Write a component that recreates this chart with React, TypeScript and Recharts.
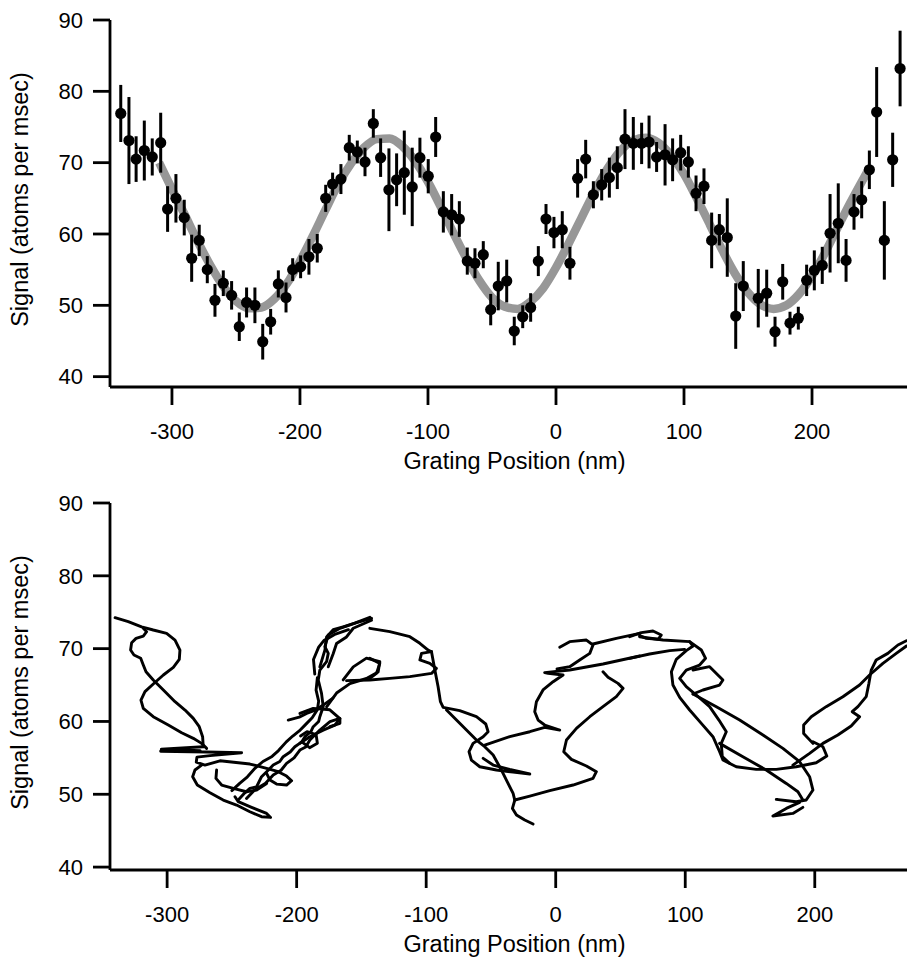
import React from 'react';
import { ComposedChart, Scatter, Line, XAxis, YAxis, ErrorBar } from 'recharts';

// ---------- shared text ----------
const xTicks = [-300, -200, -100, 0, 100, 200];
const yTicks = [40, 50, 60, 70, 80, 90];
const xTitle = 'Grating Position (nm)';
const yTitle = 'Signal (atoms per msec)';

// ---------- top panel: measured points ----------
const measuredX = [
  -340.0, -333.6, -328.0, -321.6, -315.4, -308.8, -303.4, -296.9, -290.4, -284.6,
  -278.7, -272.4, -266.4, -259.9, -253.4, -247.4, -241.7, -235.2, -229.1, -222.9,
  -216.9, -210.9, -205.7, -199.5, -193.0, -186.5, -179.9, -174.5, -168.0, -161.5,
  -155.2, -149.2, -142.7, -137.0, -130.5, -124.5, -118.5, -112.3, -106.3, -99.8,
  -94.0, -88.0, -81.5, -75.5, -69.3, -63.3, -56.8, -51.0, -45.1, -38.5,
  -32.6, -26.0, -19.8, -13.8, -7.8, -1.6, 4.9, 10.9, 16.9, 23.2,
  29.2, 35.7, 41.7, 47.9, 53.9, 60.4, 66.9, 72.7, 78.6, 85.2,
  91.1, 97.4, 103.4, 109.4, 115.6, 121.6, 127.6, 133.8, 140.4, 146.3,
  158.0, 164.6, 171.1, 177.1, 182.8, 189.3, 195.8, 201.8, 208.0, 214.1,
  220.5, 226.6, 232.8, 238.8, 244.8, 250.5, 256.5, 263.0, 268.8,
];
const measuredY = [
  76.9, 73.1, 70.5, 71.7, 70.8, 72.8, 63.5, 65.0, 62.3, 56.6,
  59.1, 55.0, 50.7, 53.1, 51.4, 47.0, 50.4, 50.0, 44.9, 47.7,
  53.0, 51.1, 55.0, 55.4, 56.8, 58.0, 65.0, 67.0, 67.7, 72.1,
  71.5, 70.1, 75.5, 70.7, 66.2, 67.6, 68.6, 66.6, 70.7, 68.1,
  73.6, 63.1, 62.7, 62.1, 56.2, 55.9, 57.1, 49.4, 52.7, 53.4,
  46.4, 48.4, 49.7, 56.2, 62.1, 60.2, 60.6, 55.9, 67.8, 70.5,
  65.5, 66.9, 67.9, 69.3, 73.3, 72.7, 72.7, 72.9, 70.8, 71.1,
  70.4, 71.4, 70.1, 65.7, 66.7, 59.1, 60.6, 59.5, 48.5, 52.7,
  51.0, 51.7, 46.3, 53.3, 47.5, 48.2, 53.5, 54.9, 55.6, 60.1,
  61.5, 56.3, 63.1, 64.8, 69.0, 77.1, 59.1, 70.4, 83.2,
];
const measuredErr = [
  4.0, 6.1, 3.2, 4.2, 2.6, 4.2, 3.2, 3.4, 2.5, 3.3,
  2.2, 1.9, 2.3, 1.8, 2.0, 2.0, 2.1, 2.5, 2.5, 1.8,
  1.9, 2.1, 1.6, 1.6, 2.5, 2.0, 1.9, 1.6, 2.1, 1.8,
  1.6, 2.0, 2.0, 2.7, 5.8, 3.7, 5.9, 5.5, 2.8, 2.4,
  2.8, 2.9, 2.9, 2.5, 1.9, 2.1, 1.9, 2.2, 3.4, 3.0,
  2.0, 1.6, 2.0, 2.1, 2.1, 2.2, 2.6, 2.3, 2.7, 2.7,
  1.9, 2.2, 2.8, 3.0, 4.2, 3.7, 2.9, 3.7, 2.1, 4.3,
  3.0, 2.5, 2.2, 2.5, 2.5, 3.9, 2.2, 5.5, 4.6, 3.5,
  4.1, 3.3, 2.1, 2.5, 1.6, 1.6, 2.2, 2.8, 2.6, 5.5,
  5.6, 3.0, 2.5, 2.6, 2.7, 6.3, 5.5, 3.8, 5.3,
];

// ---------- top panel: fitted curve ----------
const fitX = [
  -310, -300, -290, -280, -270, -260, -250, -240, -230, -220, -210, -200, -190, -180,
  -170, -160, -150, -140, -130, -120, -110, -100, -90, -80, -70, -60, -50, -40, -30,
  -20, -10, 0, 10, 20, 30, 40, 50, 60, 70, 80, 90, 100, 110, 120, 130, 140, 150, 160,
  170, 180, 190, 200, 210, 220, 230, 240, 245,
];
const fitY = [
  70.0, 66.3, 62.7, 59.0, 55.6, 52.7, 50.6, 49.6, 49.7, 50.9, 53.1, 56.2, 59.7, 63.4,
  67.0, 69.9, 72.1, 73.3, 73.4, 72.3, 70.2, 67.3, 63.8, 60.1, 56.6, 53.5, 51.1, 49.8, 49.5,
  50.5, 52.4, 55.3, 58.7, 62.3, 65.9, 69.1, 71.6, 73.1, 73.5, 72.8, 71.0, 68.4, 65.0, 61.4, 57.7,
  54.4, 51.8, 50.1, 49.5, 50.0, 51.6, 54.1, 57.3, 60.9, 64.4, 67.7, 69.3,
];

// ---------- bottom panel: recorder trace, strand by strand [nm, signal] ----------
const traceA = [[-340.2, 74.25], [-330.0, 73.7], [-319.7, 73.0], [-310.7, 72.56], [-300.4, 72.1], [-293.9, 71.18], [-290.1, 69.81], [-290.6, 68.53], [-295.2, 67.43], [-302.9, 66.38], [-310.7, 65.14], [-317.1, 64.09], [-320.2, 62.94], [-318.4, 61.8], [-310.7, 60.65], [-299.1, 59.51], [-288.8, 58.45], [-279.8, 57.68], [-273.4, 56.99], [-269.5, 56.3]];
const traceB = [[-318.4, 72.79], [-315.8, 72.33], [-318.4, 71.73], [-324.0, 71.41], [-327.4, 70.82], [-328.2, 69.81], [-325.6, 69.12], [-320.4, 68.67], [-318.4, 67.75], [-316.3, 66.83], [-310.7, 65.69], [-302.9, 64.32], [-293.9, 62.71], [-286.2, 61.57], [-279.8, 60.42], [-275.2, 59.28], [-272.6, 57.91], [-272.1, 56.53]];
const traceC = [[-272.1, 56.53], [-304.5, 56.2], [-274.5, 56.0], [-305.0, 55.9], [-269.5, 55.8], [-242.5, 55.7], [-266.9, 55.3], [-277.0, 55.1], [-277.5, 54.4], [-270.8, 54.0], [-259.2, 54.6], [-236.1, 54.15], [-223.2, 53.56], [-214.2, 53.1], [-207.8, 52.5], [-203.9, 51.86], [-207.8, 51.27], [-215.5, 51.4], [-220.6, 51.95], [-223.2, 52.87]];
const traceD = [[-273.4, 54.01], [-278.5, 53.33], [-280.3, 52.41], [-276.7, 51.27], [-266.9, 50.21], [-256.7, 49.21], [-246.4, 48.52], [-236.1, 47.6], [-227.1, 46.92], [-220.1, 46.82], [-223.2, 47.37], [-234.8, 48.2], [-245.1, 48.98], [-247.6, 49.66]];
const traceE = [[-261.8, 53.33], [-262.3, 52.18], [-257.9, 51.27], [-248.9, 50.81], [-238.7, 50.35], [-230.9, 50.58], [-223.2, 51.49]];
const traceF = [[-245.1, 49.21], [-240.0, 50.2], [-236.1, 50.81], [-231.0, 51.0], [-227.1, 52.41], [-222.0, 53.3], [-218.1, 54.01], [-213.0, 54.5], [-210.4, 55.16], [-205.0, 55.8], [-201.4, 56.53], [-196.0, 57.2], [-193.6, 57.91], [-189.0, 58.6], [-187.2, 59.28], [-183.0, 60.0], [-182.1, 60.65], [-179.5, 62.03], [-180.8, 63.86], [-183.3, 65.69], [-182.1, 67.06], [-176.9, 68.21], [-175.6, 69.35], [-178.2, 70.27], [-175.6, 71.87], [-166.6, 72.79], [-153.8, 73.57], [-142.2, 74.16]];
const traceG = [[-238.7, 49.43], [-233.0, 50.5], [-228.4, 51.04], [-224.0, 51.5], [-218.1, 52.64], [-212.0, 53.3], [-207.8, 54.24], [-202.0, 55.0], [-197.5, 56.07], [-193.0, 56.5], [-189.8, 57.45], [-182.1, 58.82], [-174.3, 59.97], [-166.6, 60.42], [-166.6, 59.74], [-174.3, 59.28]];
const traceH = [[-206.5, 60.19], [-198.0, 60.6], [-192.3, 61.11], [-185.0, 61.6], [-179.5, 62.25], [-172.0, 63.2]];
const traceI = [[-197.5, 61.1], [-187.2, 61.8], [-174.4, 61.6], [-166.6, 60.4], [-170.5, 59.5], [-179.5, 58.8], [-189.8, 57.9], [-197.5, 57.0]];
const traceJ = [[-182.1, 67.5], [-178.2, 69.8], [-176.9, 71.6], [-171.8, 72.6], [-164.1, 73.0], [-155.1, 73.5], [-143.5, 74.3]];
const traceK = [[-175.6, 67.5], [-171.8, 69.3], [-169.2, 70.7], [-161.5, 71.6], [-156.3, 72.8], [-142.2, 73.9]];
const traceL = [[-164.1, 65.7], [-156.3, 67.5], [-146.1, 68.7], [-135.8, 68.2], [-137.1, 66.8], [-146.1, 65.9], [-158.9, 65.2], [-169.2, 63.9], [-176.9, 62.0]];
const traceM = [[-143.5, 72.79], [-128.1, 72.33], [-112.6, 71.64], [-104.9, 70.73], [-98.5, 69.81], [-95.9, 69.58]];
const traceN = [[-143.5, 68.67], [-135.8, 67.98], [-138.4, 66.6], [-143.5, 65.92]];
const traceO = [[-161.5, 65.6], [-143.5, 65.69], [-128.1, 65.92], [-112.6, 66.15], [-95.9, 66.6], [-92.1, 67.29], [-97.2, 67.98], [-104.9, 68.44], [-103.6, 69.35], [-95.9, 69.58]];
const traceP = [[-95.9, 69.58], [-93.3, 67.06], [-90.8, 64.77], [-89.0, 62.71], [-86.9, 61.94], [-74.1, 61.48], [-61.2, 60.65], [-54.0, 59.65], [-52.2, 58.59], [-56.0, 57.91], [-63.8, 56.99], [-66.9, 55.84], [-65.1, 54.7], [-58.6, 53.78], [-45.8, 53.33], [-32.9, 53.05], [-20.0, 52.78], [-35.5, 53.42], [-48.3, 54.01], [-56.0, 54.93]];
const traceQ = [[-84.3, 61.57], [-76.6, 60.19], [-68.9, 58.82], [-61.2, 57.45], [-54.8, 56.53], [-48.3, 55.39], [-41.9, 53.33], [-36.8, 51.49], [-32.9, 50.12], [-31.6, 49.21], [-33.4, 48.06], [-30.3, 47.15], [-23.9, 46.46], [-17.5, 45.91]];
const traceR = [[-54.8, 56.76], [-35.5, 57.91], [-20.0, 58.59], [-8.5, 59.19], [3.1, 58.82], [-8.5, 59.51], [-13.6, 60.19], [-16.2, 61.34], [-14.9, 62.71], [-9.8, 64.32], [-2.0, 65.46], [5.7, 66.38], [-5.9, 66.6], [-8.5, 66.7], [10.8, 67.06], [36.5, 67.89], [64.8, 68.99]];
const traceS = [[-31.6, 49.21], [-20.0, 49.75], [-4.6, 50.49], [13.4, 51.27], [28.8, 52.18], [31.4, 53.1], [23.7, 53.88], [12.1, 54.79], [6.2, 55.84], [8.3, 57.45], [16.0, 59.05], [26.3, 60.65], [36.5, 62.03], [46.8, 63.4], [52.0, 64.54], [48.1, 65.23], [40.4, 66.06], [36.5, 66.83]];
const traceT = [[3.1, 70.18], [10.8, 70.96], [23.7, 71.18], [28.8, 70.5], [26.3, 69.35], [18.5, 68.44], [10.8, 67.52], [1.0, 67.2]];
const traceU = [[28.8, 70.64], [46.8, 71.41], [64.8, 72.1]];
const traceV = [[57.1, 71.64], [66.1, 72.19], [75.1, 72.42], [81.5, 71.87], [79.0, 71.28], [70.0, 71.41], [64.8, 71.78]];
const traceW = [[57.1, 68.67], [72.5, 69.26], [88.0, 69.72], [99.5, 69.9]];
const traceX = [[64.8, 71.64], [82.8, 71.18], [103.4, 70.96], [106.0, 70.36], [100.8, 69.72], [93.1, 68.53], [89.3, 66.83], [90.5, 65.0], [95.7, 63.31], [103.4, 61.57], [112.4, 59.74], [121.4, 57.91], [126.0, 56.07], [129.1, 54.7], [139.4, 53.78], [154.8, 53.42], [170.3, 53.42], [185.7, 53.78], [201.1, 54.33], [209.3, 55.25], [206.3, 56.53], [198.6, 57.22]];
const traceY = [[103.4, 70.96], [112.4, 69.81], [115.7, 68.67], [111.1, 67.75], [100.8, 67.06], [95.7, 65.92], [100.8, 64.77], [108.5, 63.63], [118.8, 62.03], [126.0, 60.19], [131.7, 58.59], [127.8, 56.99], [128.6, 55.16], [134.3, 54.24]];
const traceZ = [[106.0, 67.06], [118.8, 67.52], [129.1, 65.69], [126.5, 65.0], [113.7, 64.32], [106.0, 63.77]];
const traceAA = [[106.0, 63.77], [124.0, 62.03], [142.0, 60.19], [160.0, 58.13], [175.4, 56.3], [188.3, 54.47], [196.0, 52.41], [198.6, 50.58], [193.4, 49.21], [185.7, 48.98], [170.3, 49.3], [188.3, 48.89], [178.0, 48.06], [167.7, 47.01], [183.1, 47.37], [190.8, 48.2]];
const traceBB = [[126.5, 56.99], [144.5, 55.16], [162.5, 53.33], [178.0, 51.49], [187.0, 50.35], [190.8, 49.21]];
const traceCC = [[183.1, 54.01], [196.0, 55.62], [206.3, 56.99], [217.8, 58.13], [228.1, 59.37], [234.6, 60.65], [228.9, 61.34], [233.3, 62.03], [239.7, 63.4], [241.8, 65.23], [243.6, 67.06], [247.4, 68.44], [256.4, 69.35], [264.2, 70.5], [270.8, 71.09]];
const traceDD = [[198.6, 56.99], [191.4, 58.36], [191.4, 59.51], [197.3, 60.65], [208.8, 62.03], [221.7, 63.4], [234.6, 65.0], [242.3, 66.38], [252.6, 67.98], [262.9, 69.35], [270.8, 70.36]];
const traceEE = [[-250.0, 50.5], [-244.0, 51.5], [-238.0, 52.4], [-232.0, 53.6], [-226.0, 54.5], [-219.0, 55.2], [-214.0, 56.0], [-208.0, 57.2], [-203.0, 58.0], [-198.0, 58.7], [-193.0, 59.6], [-188.0, 60.5], [-184.0, 61.6], [-183.0, 62.8], [-185.0, 64.3], [-184.0, 66.0]];
const traceFF = [[-196.0, 57.2], [-190.0, 56.4], [-184.0, 57.0], [-185.0, 58.2], [-192.0, 58.6], [-197.0, 58.0]];
const traceGG = [[-186.0, 66.5], [-187.0, 68.5], [-183.0, 70.2], [-179.0, 71.1], [-170.0, 72.0], [-160.0, 72.6]];

const traces = [
  traceA, traceB, traceC, traceD, traceE, traceF, traceG, traceH, traceI, traceJ, traceK,
  traceL, traceM, traceN, traceO, traceP, traceQ, traceR, traceS, traceT, traceU, traceV,
  traceW, traceX, traceY, traceZ, traceAA, traceBB, traceCC, traceDD, traceEE, traceFF, traceGG,
];

// ---------- built tables ----------
const measured = measuredX.map((x, i) => ({ x, y: measuredY[i], err: measuredErr[i] }));
const fitData = fitX.map((x, i) => ({ x, y: fitY[i] }));
const traceData = traces.map((t) => t.map(([x, y]) => ({ x, y })));

// ---------- styling ----------
const FONT = '"Liberation Sans", Arial, Helvetica, sans-serif';
const tickStyle = { fill: '#000', fontSize: 22, fontFamily: FONT };
const lineStyle = { stroke: '#000', strokeWidth: 2.8 };

const XTitle = (props: any) => {
  const vb = props.viewBox || {};
  return (
    <text
      x={vb.x + vb.width / 2 + 6}
      y={vb.y + 82}
      textAnchor="middle"
      fontSize={23.5}
      fontFamily={FONT}
      fill="#000"
    >
      {xTitle}
    </text>
  );
};

const YTitle = (props: any) => {
  const vb = props.viewBox || {};
  const cx = 28;
  const cy = vb.y + vb.height / 2 - 4;
  return (
    <text
      x={cx}
      y={cy}
      transform={`rotate(-90, ${cx}, ${cy})`}
      textAnchor="middle"
      fontSize={23.5}
      fontFamily={FONT}
      fill="#000"
    >
      {yTitle}
    </text>
  );
};

const Dot = (p: any) => <circle cx={p.cx} cy={p.cy} r={5.6} fill="#000" />;

export default function App() {
  return (
    <div style={{ position: 'absolute', left: 0, top: 0, width: 908, height: 959, background: '#fff' }}>
      <div style={{ position: 'absolute', left: 0, top: 0 }}>
        <ComposedChart width={908} height={480} margin={{ top: 20, right: 1, bottom: 0, left: 0 }}>
          <XAxis
            type="number"
            dataKey="x"
            domain={[-348.4, 274.2]}
            ticks={xTicks}
            interval={0}
            allowDataOverflow
            height={93}
            tickSize={18}
            tickMargin={18}
            tick={tickStyle}
            axisLine={lineStyle}
            tickLine={lineStyle}
            label={(p: any) => <XTitle {...p} />}
          />
          <YAxis
            type="number"
            dataKey="y"
            domain={[38.55, 90]}
            ticks={yTicks}
            interval={0}
            allowDataOverflow
            width={110}
            tickSize={17}
            tickMargin={10}
            tick={tickStyle}
            axisLine={lineStyle}
            tickLine={lineStyle}
            label={(p: any) => <YTitle {...p} />}
          />
          <Line
            data={fitData}
            dataKey="y"
            type="monotone"
            stroke="#979797"
            strokeWidth={8.5}
            dot={false}
            activeDot={false}
            isAnimationActive={false}
          />
          <Scatter data={measured} dataKey="y" shape={Dot} isAnimationActive={false}>
            <ErrorBar dataKey="err" direction="y" width={0} stroke="#000" strokeWidth={3} />
          </Scatter>
        </ComposedChart>
      </div>
      <div style={{ position: 'absolute', left: 0, top: 483 }}>
        <ComposedChart width={908} height={476} margin={{ top: 20, right: 1, bottom: 0, left: 0 }}>
          <XAxis
            type="number"
            dataKey="x"
            domain={[-344.1, 271.2]}
            ticks={xTicks}
            interval={0}
            allowDataOverflow
            height={89}
            tickSize={18}
            tickMargin={18}
            tick={tickStyle}
            axisLine={lineStyle}
            tickLine={lineStyle}
            label={(p: any) => <XTitle {...p} />}
          />
          <YAxis
            type="number"
            dataKey="y"
            domain={[39.6, 90]}
            ticks={yTicks}
            interval={0}
            allowDataOverflow
            width={110}
            tickSize={17}
            tickMargin={10}
            tick={tickStyle}
            axisLine={lineStyle}
            tickLine={lineStyle}
            label={(p: any) => <YTitle {...p} />}
          />
          {traceData.map((d, i) => (
            <Line
              key={i}
              data={d}
              dataKey="y"
              type="linear"
              stroke="#000"
              strokeWidth={2.9}
              strokeLinejoin="round"
              strokeLinecap="round"
              dot={false}
              activeDot={false}
              isAnimationActive={false}
            />
          ))}
        </ComposedChart>
      </div>
    </div>
  );
}
